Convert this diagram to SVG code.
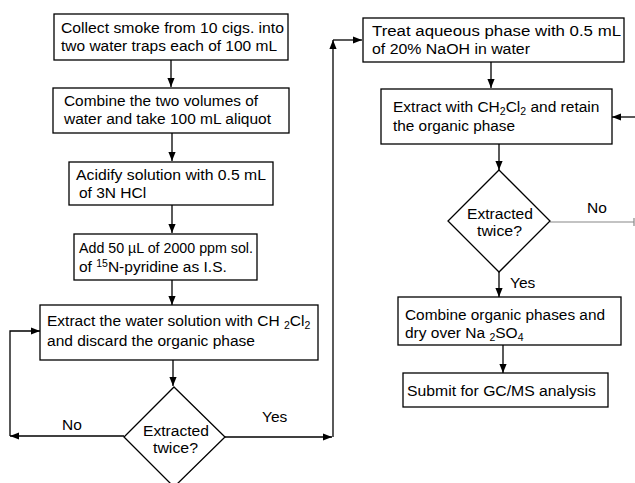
<svg xmlns="http://www.w3.org/2000/svg" width="635" height="483" viewBox="0 0 635 483">
<style>
.b{fill:#fff;stroke:#000;stroke-width:1.3}
.t{font-family:"Liberation Sans",Arial,sans-serif;font-size:15.5px;fill:#000}
.s{font-size:10.5px}
.c{fill:none;stroke:#000;stroke-width:1.3}
.g{fill:none;stroke:#888;stroke-width:1.2}
</style>
<defs>
<marker id="a" viewBox="0 0 10 10" refX="10" refY="5" markerWidth="9" markerHeight="9" markerUnits="userSpaceOnUse" orient="auto"><path d="M0,1 L10,5 L0,9 Z" fill="#000"/></marker>
</defs>
<rect width="635" height="483" fill="#fff"/>
<g id="connectors">
<path class="c" d="M171,60 V87" marker-end="url(#a)"/>
<path class="c" d="M172,133 V161" marker-end="url(#a)"/>
<path class="c" d="M172,205 V233" marker-end="url(#a)"/>
<path class="c" d="M172,280 V305" marker-end="url(#a)"/>
<path class="c" d="M173,360 V386" marker-end="url(#a)"/>
<path class="c" d="M124,436 H10" marker-end="url(#a)"/>
<path class="c" d="M10,436 V331 H40" marker-end="url(#a)"/>
<path class="c" d="M225,437 H332" marker-end="url(#a)"/>
<path class="c" d="M333,437 V40" marker-end="url(#a)"/>
<path class="c" d="M333,40 H362" marker-end="url(#a)"/>
<path class="c" d="M491,62 V88" marker-end="url(#a)"/>
<path class="c" d="M635,117 H612" marker-end="url(#a)"/>
<path class="c" d="M499,144 V170" marker-end="url(#a)"/>
<path class="g" d="M550,222 H634 M634,218 V226"/>
<path class="c" d="M499,272 V297" marker-end="url(#a)"/>
<path class="c" d="M503,345 V373" marker-end="url(#a)"/>
<text class="t" x="62" y="430">No</text>
<text class="t" x="262" y="422">Yes</text>
<text class="t" x="587" y="213">No</text>
<text class="t" x="510" y="288">Yes</text>
</g>
<g id="n1"><rect class="b" x="54" y="14" width="234" height="46"/>
<text class="t" x="61" y="33" textLength="223" lengthAdjust="spacingAndGlyphs">Collect smoke from 10 cigs. into</text>
<text class="t" x="61" y="51" textLength="216" lengthAdjust="spacingAndGlyphs">two water traps each of 100 mL</text></g>
<g id="n2"><rect class="b" x="53" y="88" width="236" height="45"/>
<text class="t" x="64" y="106" textLength="194" lengthAdjust="spacingAndGlyphs">Combine the two volumes of</text>
<text class="t" x="64" y="124" textLength="207" lengthAdjust="spacingAndGlyphs">water and take 100 mL aliquot</text></g>
<g id="n3"><rect class="b" x="69" y="162" width="204" height="43"/>
<text class="t" x="76" y="180" textLength="190" lengthAdjust="spacingAndGlyphs">Acidify solution with 0.5 mL</text>
<text class="t" x="79" y="198">of 3N HCl</text></g>
<g id="n4"><rect class="b" x="74" y="234" width="183" height="46"/>
<text class="t" x="79" y="253" textLength="174" lengthAdjust="spacingAndGlyphs">Add 50 µL of 2000 ppm sol.</text>
<text class="t" x="79" y="272">of <tspan class="s" dy="-5">15</tspan><tspan dy="5">N-pyridine as I.S.</tspan></text></g>
<g id="n5"><rect class="b" x="40" y="305" width="278" height="55"/>
<text class="t" x="47" y="326">Extract the water solution with CH <tspan class="s" dy="3">2</tspan><tspan dy="-3">Cl</tspan><tspan class="s" dy="3">2</tspan></text>
<text class="t" x="47" y="346" textLength="208" lengthAdjust="spacingAndGlyphs">and discard the organic phase</text></g>
<g id="d1"><path class="b" d="M174,387 L225,437 L174,487 L124,437 Z"/>
<text class="t" x="143" y="436" textLength="66" lengthAdjust="spacingAndGlyphs">Extracted</text>
<text class="t" x="153" y="453" textLength="45" lengthAdjust="spacingAndGlyphs">twice?</text></g>
<g id="n6"><rect class="b" x="363" y="18" width="261" height="44"/>
<text class="t" x="372" y="36" textLength="249" lengthAdjust="spacingAndGlyphs">Treat aqueous phase with 0.5 mL</text>
<text class="t" x="372" y="54" textLength="158" lengthAdjust="spacingAndGlyphs">of 20% NaOH  in water</text></g>
<g id="n7"><rect class="b" x="381" y="89" width="231" height="55"/>
<text class="t" x="393" y="112">Extract with CH<tspan class="s" dy="3">2</tspan><tspan dy="-3">Cl</tspan><tspan class="s" dy="3">2</tspan><tspan dy="-3"> and retain</tspan></text>
<text class="t" x="393" y="131" textLength="122" lengthAdjust="spacingAndGlyphs">the organic phase</text></g>
<g id="d2"><path class="b" d="M499,170 L550,221 L499,272 L448,221 Z"/>
<text class="t" x="467" y="219" textLength="66" lengthAdjust="spacingAndGlyphs">Extracted</text>
<text class="t" x="477" y="236" textLength="45" lengthAdjust="spacingAndGlyphs">twice?</text></g>
<g id="n8"><rect class="b" x="398" y="297" width="223" height="48"/>
<text class="t" x="405" y="320" textLength="200" lengthAdjust="spacingAndGlyphs">Combine organic phases and</text>
<text class="t" x="405" y="338">dry over Na <tspan class="s" dy="3">2</tspan><tspan dy="-3">SO</tspan><tspan class="s" dy="3">4</tspan></text></g>
<g id="n9"><rect class="b" x="403" y="373" width="205" height="34"/>
<text class="t" x="407" y="396" textLength="189" lengthAdjust="spacingAndGlyphs">Submit for GC/MS analysis</text></g>
</svg>
